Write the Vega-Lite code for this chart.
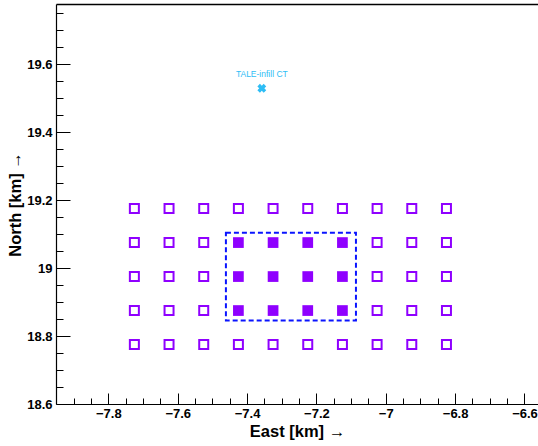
{
 "$schema": "https://vega.github.io/schema/vega-lite/v6.json",
 "width": 482, "height": 400,
 "autosize": {"type": "none"},
 "padding": {"left": 56, "top": 4, "right": 0, "bottom": 42},
 "background": "white",
 "config": {
  "view": {"stroke": null},
  "axis": {"labelFont": "Liberation Sans", "titleFont": "Liberation Sans", "labelFontWeight": "bold", "titleFontWeight": "bold", "labelColor": "black", "titleColor": "black", "domainColor": "black", "tickColor": "black", "grid": false, "labelFontSize": 13, "titleFontSize": 16.5, "domainWidth": 1.2, "tickWidth": 1}
 },
 "datasets": {
  "box": [{"x1": -7.461, "x2": -7.086, "y1": 18.846, "y2": 19.104}],
  "sd": [
   {"x": -7.725, "y": 19.175, "t": "o"}, {"x": -7.625, "y": 19.175, "t": "o"}, {"x": -7.525, "y": 19.175, "t": "o"}, {"x": -7.425, "y": 19.175, "t": "o"}, {"x": -7.325, "y": 19.175, "t": "o"}, {"x": -7.225, "y": 19.175, "t": "o"}, {"x": -7.125, "y": 19.175, "t": "o"}, {"x": -7.025, "y": 19.175, "t": "o"}, {"x": -6.925, "y": 19.175, "t": "o"}, {"x": -6.825, "y": 19.175, "t": "o"},
   {"x": -7.725, "y": 19.075, "t": "o"}, {"x": -7.625, "y": 19.075, "t": "o"}, {"x": -7.525, "y": 19.075, "t": "o"}, {"x": -7.425, "y": 19.075, "t": "f"}, {"x": -7.325, "y": 19.075, "t": "f"}, {"x": -7.225, "y": 19.075, "t": "f"}, {"x": -7.125, "y": 19.075, "t": "f"}, {"x": -7.025, "y": 19.075, "t": "o"}, {"x": -6.925, "y": 19.075, "t": "o"}, {"x": -6.825, "y": 19.075, "t": "o"},
   {"x": -7.725, "y": 18.975, "t": "o"}, {"x": -7.625, "y": 18.975, "t": "o"}, {"x": -7.525, "y": 18.975, "t": "o"}, {"x": -7.425, "y": 18.975, "t": "f"}, {"x": -7.325, "y": 18.975, "t": "f"}, {"x": -7.225, "y": 18.975, "t": "f"}, {"x": -7.125, "y": 18.975, "t": "f"}, {"x": -7.025, "y": 18.975, "t": "o"}, {"x": -6.925, "y": 18.975, "t": "o"}, {"x": -6.825, "y": 18.975, "t": "o"},
   {"x": -7.725, "y": 18.875, "t": "o"}, {"x": -7.625, "y": 18.875, "t": "o"}, {"x": -7.525, "y": 18.875, "t": "o"}, {"x": -7.425, "y": 18.875, "t": "f"}, {"x": -7.325, "y": 18.875, "t": "f"}, {"x": -7.225, "y": 18.875, "t": "f"}, {"x": -7.125, "y": 18.875, "t": "f"}, {"x": -7.025, "y": 18.875, "t": "o"}, {"x": -6.925, "y": 18.875, "t": "o"}, {"x": -6.825, "y": 18.875, "t": "o"},
   {"x": -7.725, "y": 18.775, "t": "o"}, {"x": -7.625, "y": 18.775, "t": "o"}, {"x": -7.525, "y": 18.775, "t": "o"}, {"x": -7.425, "y": 18.775, "t": "o"}, {"x": -7.325, "y": 18.775, "t": "o"}, {"x": -7.225, "y": 18.775, "t": "o"}, {"x": -7.125, "y": 18.775, "t": "o"}, {"x": -7.025, "y": 18.775, "t": "o"}, {"x": -6.925, "y": 18.775, "t": "o"}, {"x": -6.825, "y": 18.775, "t": "o"}
  ],
  "ct": [{"x": -7.3575, "y": 19.529, "label": "TALE-infill CT"}]
 },
 "layer": [
  {
   "data": {"name": "box"},
   "mark": {"type": "rect", "fill": null, "filled": false, "stroke": "#0a14ff", "strokeWidth": 2, "strokeDash": [5, 3]},
   "encoding": {
    "x": {"field": "x1", "type": "quantitative", "scale": {"domain": [-7.951, -6.561], "nice": false, "zero": false},
     "axis": {"orient": "bottom", "title": "East [km] →", "format": "~g", "values": [-7.8, -7.6, -7.4, -7.2, -7, -6.8, -6.6], "tickSize": -11, "labelPadding": 14, "titlePadding": 3, "titleAnchor": "middle"}},
    "x2": {"field": "x2"},
    "y": {"field": "y1", "type": "quantitative", "scale": {"domain": [18.6, 19.777], "nice": false, "zero": false},
     "axis": {"orient": "left", "title": "North [km] →", "format": "~g", "values": [18.6, 18.8, 19, 19.2, 19.4, 19.6], "tickSize": -14, "labelPadding": 18, "titlePadding": 3, "titleAnchor": "middle"}},
    "y2": {"field": "y2"}
   }
  },
  {
   "data": {"name": "sd"},
   "transform": [{"filter": "datum.t === 'o'"}],
   "mark": {"type": "point", "shape": "square", "filled": false, "stroke": "#8f00ff", "strokeWidth": 2, "size": 81, "opacity": 1},
   "encoding": {
    "x": {"field": "x", "type": "quantitative", "scale": {"domain": [-7.951, -6.561], "nice": false, "zero": false},
     "axis": {"orient": "bottom", "title": null, "labels": false, "domain": false, "tickSize": -6, "values": [-7.9, -7.85, -7.75, -7.7, -7.65, -7.55, -7.5, -7.45, -7.35, -7.3, -7.25, -7.15, -7.1, -7.05, -6.95, -6.9, -6.85, -6.75, -6.7, -6.65]}},
    "y": {"field": "y", "type": "quantitative", "scale": {"domain": [18.6, 19.777], "nice": false, "zero": false},
     "axis": {"orient": "left", "title": null, "labels": false, "domain": false, "tickSize": -7, "values": [18.65, 18.7, 18.75, 18.85, 18.9, 18.95, 19.05, 19.1, 19.15, 19.25, 19.3, 19.35, 19.45, 19.5, 19.55, 19.65, 19.7, 19.75]}}
   }
  },
  {
   "data": {"name": "sd"},
   "transform": [{"filter": "datum.t === 'f'"}],
   "mark": {"type": "point", "shape": "square", "filled": true, "fill": "#8f00ff", "strokeWidth": 0, "size": 115, "opacity": 1},
   "encoding": {
    "x": {"field": "x", "type": "quantitative", "scale": {"domain": [-7.951, -6.561], "nice": false, "zero": false},
     "axis": {"orient": "top", "title": null, "labels": false, "ticks": false, "domain": true, "domainWidth": 1.5}},
    "y": {"field": "y", "type": "quantitative", "scale": {"domain": [18.6, 19.777], "nice": false, "zero": false}, "axis": null}
   }
  },
  {
   "data": {"name": "ct"},
   "mark": {"type": "point", "shape": "cross", "angle": 45, "filled": true, "fill": "#2ebdf5", "strokeWidth": 0, "size": 80, "opacity": 1},
   "encoding": {
    "x": {"field": "x", "type": "quantitative", "scale": {"domain": [-7.951, -6.561], "nice": false, "zero": false}, "axis": null},
    "y": {"field": "y", "type": "quantitative", "scale": {"domain": [18.6, 19.777], "nice": false, "zero": false}, "axis": null}
   }
  },
  {
   "data": {"name": "ct"},
   "mark": {"type": "text", "font": "Liberation Sans", "fontSize": 8.5, "color": "#2ebdf5", "baseline": "alphabetic", "align": "center", "dy": -11},
   "encoding": {
    "x": {"field": "x", "type": "quantitative", "scale": {"domain": [-7.951, -6.561], "nice": false, "zero": false}, "axis": null},
    "y": {"field": "y", "type": "quantitative", "scale": {"domain": [18.6, 19.777], "nice": false, "zero": false}, "axis": null},
    "text": {"field": "label"}
   }
  }
 ],
 "resolve": {"axis": {"x": "independent", "y": "independent"}}
}
